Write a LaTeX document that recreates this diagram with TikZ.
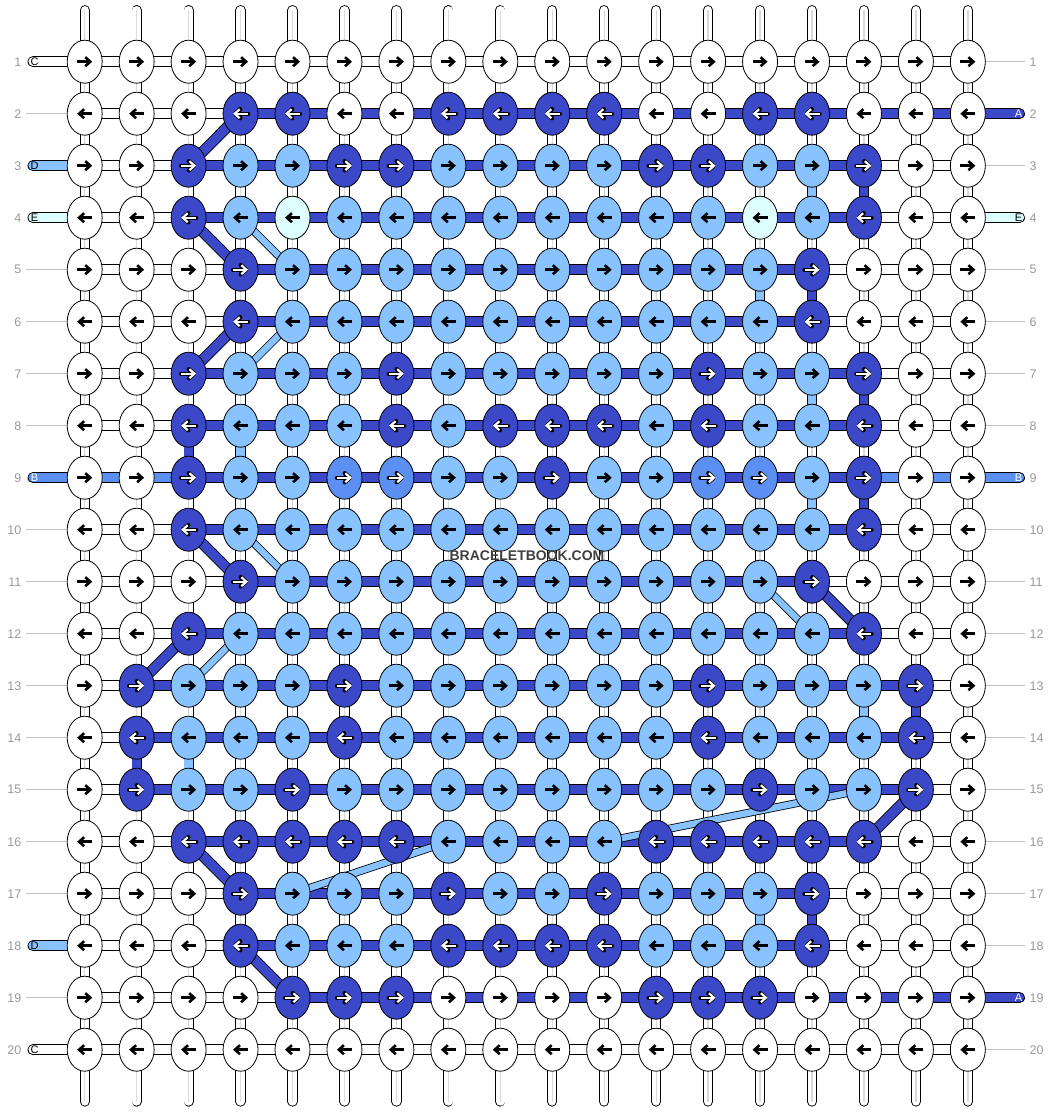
\documentclass[tikz,border=0pt]{standalone}
\usepackage{fontspec}
\setmainfont{Liberation Sans}
\usetikzlibrary{shapes.geometric,arrows.meta}

\definecolor{knotW}{HTML}{FFFFFF}
\definecolor{knotK}{HTML}{3B48C8}
\definecolor{knotL}{HTML}{88C3FF}
\definecolor{knotC}{HTML}{DDFFFF}
\definecolor{knotM}{HTML}{5B8FF2}
\definecolor{tickgray}{HTML}{C0C0C0}
\definecolor{numgray}{HTML}{999999}
\definecolor{markgray}{HTML}{3F3F3F}

\pgfdeclarelayer{background}
\pgfsetlayers{background,main}

\tikzset{
  knot/.style={draw,shape=ellipse,line width=0.8pt,minimum width=35pt,minimum height=43pt,inner sep=0},
  pipe/.style={draw=black,line width=0.9pt,double=white,double distance=8.4pt,line cap=round},
  pipecore/.style={draw=gray!28,line width=1.3pt},
  seg/.style={draw=black,line width=0.9pt,double distance=9.2pt},
  segW/.style={seg,double=knotW},
  segK/.style={seg,double=knotK},
  segL/.style={seg,double=knotL},
  segC/.style={seg,double=knotC},
  segM/.style={seg,double=knotM},
  diagK/.style={draw=black,line width=0.9pt,double=knotK,double distance=9.2pt},
  diagL/.style={draw=black,line width=0.8pt,double=knotL,double distance=6.4pt},
  tickline/.style={draw=tickgray,line width=1pt},
  rownum/.style={inner sep=0,text=numgray,font=\fontsize{12.5}{12.5}\selectfont},
  stubtext/.style={inner sep=0,font=\fontsize{11}{11}\selectfont},
  arrowoutW/.style={draw=black,line width=2.6pt,-{Straight Barb[length=5pt,width=9pt]}},
  arrowoutL/.style={arrowoutW},
  arrowoutC/.style={arrowoutW},
  arrowoutK/.style={draw=black,line width=4.4pt,line cap=round,-{Straight Barb[length=5pt,width=9pt,round]}},
  arrowoutM/.style={arrowoutK},
  arrowinW/.style={draw=none},
  arrowinL/.style={draw=none},
  arrowinC/.style={draw=none},
  arrowinK/.style={draw=white,line width=2.2pt,-{Straight Barb[length=5pt,width=9pt]}},
  arrowinM/.style={arrowinK}
}

\begin{document}
\begin{tikzpicture}[x=1pt,y=-1pt]
  \useasboundingbox (0,0) rectangle (1052,1112);

  % knots, row by row
  \foreach \r/\row in {
    1/{W,W,W,W,W,W,W,W,W,W,W,W,W,W,W,W,W,W},
    2/{W,W,W,K,K,W,W,K,K,K,K,W,W,K,K,W,W,W},
    3/{W,W,K,L,L,K,K,L,L,L,L,K,K,L,L,K,W,W},
    4/{W,W,K,L,C,L,L,L,L,L,L,L,L,C,L,K,W,W},
    5/{W,W,W,K,L,L,L,L,L,L,L,L,L,L,K,W,W,W},
    6/{W,W,W,K,L,L,L,L,L,L,L,L,L,L,K,W,W,W},
    7/{W,W,K,L,L,L,K,L,L,L,L,L,K,L,L,K,W,W},
    8/{W,W,K,L,L,L,K,L,K,K,K,L,K,L,L,K,W,W},
    9/{W,W,K,L,L,M,M,L,L,K,L,L,M,M,L,K,W,W},
    10/{W,W,K,L,L,L,L,L,L,L,L,L,L,L,L,K,W,W},
    11/{W,W,W,K,L,L,L,L,L,L,L,L,L,L,K,W,W,W},
    12/{W,W,K,L,L,L,L,L,L,L,L,L,L,L,L,K,W,W},
    13/{W,K,L,L,L,K,L,L,L,L,L,L,K,L,L,L,K,W},
    14/{W,K,L,L,L,K,L,L,L,L,L,L,K,L,L,L,K,W},
    15/{W,K,L,L,K,L,L,L,L,L,L,L,L,K,L,L,K,W},
    16/{W,W,K,K,K,K,K,L,L,L,L,K,K,K,K,K,W,W},
    17/{W,W,W,K,L,L,L,K,L,L,K,L,L,L,K,W,W,W},
    18/{W,W,W,K,L,L,L,K,K,K,K,L,L,L,K,W,W,W},
    19/{W,W,W,W,K,K,K,W,W,W,W,K,K,K,W,W,W,W},
    20/{W,W,W,W,W,W,W,W,W,W,W,W,W,W,W,W,W,W}} {
    \pgfmathsetmacro\dir{2*mod(\r,2)-1}
    \foreach \k [count=\c] in \row {
      \node[knot,fill=knot\k] (k-\r-\c) at ({84.7+51.95*(\c-1)},{61.7+52*(\r-1)}) {};
      \draw[arrowout\k] ([xshift={-7.5*(\dir)}]k-\r-\c.center) -- ([xshift={7.5*(\dir)}]k-\r-\c.center);
      \draw[arrowin\k] ([xshift={-7.5*(\dir)}]k-\r-\c.center) -- ([xshift={7.5*(\dir)}]k-\r-\c.center);
    }
  }

  \begin{pgfonlayer}{background}
    % base strands
    \foreach \c in {1,...,18} {
      \coordinate (top-\c) at ({84.7+51.95*(\c-1)},10.2);
      \coordinate (bot-\c) at ({84.7+51.95*(\c-1)},1101.5);
      \draw[pipe] (top-\c) -- (bot-\c);
      \draw[pipecore] (top-\c) -- (bot-\c);
    }
    \foreach \r/\c/\k in {3/15/L,3/16/K,5/14/L,5/15/K,7/15/L,7/16/K,8/3/K,8/4/L,9/15/L,9/16/K,
                          13/16/L,13/17/K,14/2/K,14/3/L,17/14/L,17/15/K} {
      \pgfmathtruncatemacro\rn{\r+1}
      \draw[seg\k,double distance=8.4pt] (k-\r-\c.center) -- (k-\rn-\c.center);
    }

    % working strands
    \foreach \r/\a/\b/\o in {1/99/0/W,2/4/17/W,3/3/15/W,4/3/15/W,5/4/14/W,6/4/14/W,7/3/15/W,
                             8/3/15/W,9/3/15/M,10/3/15/W,11/4/14/W,12/3/15/W,13/2/16/W,14/2/16/W,
                             15/2/16/W,16/3/15/W,17/4/14/W,18/4/14/W,19/5/17/W,20/99/0/W} {
      \foreach \j [evaluate=\j as \jn using int(\j+1)] in {1,...,17} {
        \ifnum\j<\a \def\sc{\o}\else\ifnum\j>\b \def\sc{\o}\else\def\sc{K}\fi\fi
        \draw[seg\sc] (k-\r-\j.center) -- (k-\r-\jn.center);
      }
    }

    % loose ends
    \foreach \r/\k in {1/W,3/L,4/C,9/M,18/L,20/W} {
      \coordinate (sl-\r) at (33,{61.7+52*(\r-1)});
      \draw[seg\k,line cap=round] (sl-\r) -- (k-\r-1.center);
    }
    \foreach \r/\k in {2/K,4/C,9/M,19/K} {
      \coordinate (sr-\r) at (1019.5,{61.7+52*(\r-1)});
      \draw[seg\k,line cap=round] (k-\r-18.center) -- (sr-\r);
    }
    \foreach \r in {2,5,6,7,8,10,11,12,13,14,15,16,17,19} {
      \coordinate (tl-\r) at (26,{61.7+52*(\r-1)});
      \draw[tickline] (tl-\r) -- (k-\r-1.center);
    }
    \foreach \r in {1,3,5,6,7,8,10,11,12,13,14,15,16,17,18,20} {
      \coordinate (tr-\r) at (1025,{61.7+52*(\r-1)});
      \draw[tickline] (k-\r-18.center) -- (tr-\r);
    }

    % strands changing rows
    \foreach \ra/\ca/\rb/\cb in {2/4/3/3,4/3/5/4,6/4/7/3,10/3/11/4,12/3/13/2,16/3/17/4,18/4/19/5,
                                 11/15/12/16,15/17/16/16}
      \draw[diagK] (k-\ra-\ca.center) -- (k-\rb-\cb.center);
    \foreach \ra/\ca/\rb/\cb in {4/4/5/5,6/5/7/4,10/4/11/5,12/4/13/3,11/14/12/15,17/5/16/8,16/11/15/16}
      \draw[diagL] (k-\ra-\ca.center) -- (k-\rb-\cb.center);
  \end{pgfonlayer}

  % row numbers
  \foreach \r in {1,...,20} {
    \node[rownum,anchor=east] (nl-\r) at (21.5,{61.7+52*(\r-1)}) {\r};
    \node[rownum,anchor=west] (nr-\r) at (1029.5,{61.7+52*(\r-1)}) {\r};
  }

  % strand letters
  \foreach \r/\t/\col in {1/C/black,3/D/black,4/E/black,9/B/white,18/D/black,20/C/black}
    \node[stubtext,text=\col] (ll-\r) at (34.5,{61.7+52*(\r-1)}) {\t};
  \foreach \r/\t/\col in {2/A/white,4/E/black,9/B/white,19/A/white}
    \node[stubtext,text=\col] (lr-\r) at (1018.5,{61.7+52*(\r-1)}) {\t};

  \node[text=markgray,inner sep=0,font=\bfseries\fontsize{14}{14}\selectfont] (watermark) at (527,556) {BRACELETBOOK.COM};
\end{tikzpicture}
\end{document}
